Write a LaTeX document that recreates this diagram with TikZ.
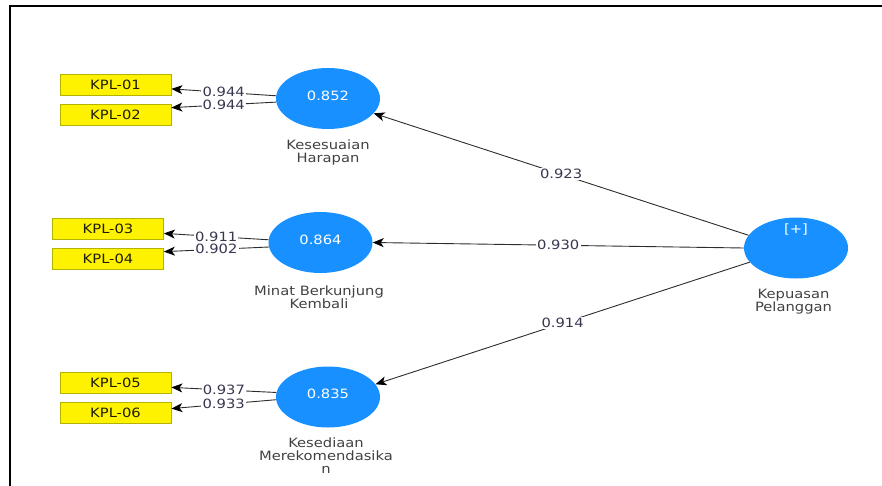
\documentclass[tikz,border=0pt]{standalone}
\usepackage{fontspec}
\setmainfont{DejaVu Sans}[FakeStretch=1.15]
\usetikzlibrary{arrows.meta,shapes.geometric}
\definecolor{lvblue}{RGB}{24,144,255}
\definecolor{boxedge}{RGB}{180,180,0}
\definecolor{boxtext}{RGB}{30,30,0}
\definecolor{linegray}{RGB}{45,45,45}
\definecolor{numtext}{RGB}{55,55,80}
\definecolor{captext}{RGB}{65,65,65}
\newcommand\dfont{\fontsize{12.8}{13}\selectfont}
\begin{document}
\begin{tikzpicture}[x=1pt,y=-1pt,
  lv/.style={ellipse, fill=lvblue, minimum width=104pt, minimum height=61pt, inner sep=0pt, text=white, font=\dfont, text depth=6pt},
  ind/.style={rectangle, fill=yellow, draw=boxedge, line width=0.8pt, minimum width=111pt, minimum height=21pt, inner sep=0pt, text=boxtext, font=\dfont},
  conn/.style={draw=linegray, line width=0.9pt, -{Stealth[length=11pt,width=9pt,inset=3pt,black]}},
  wt/.style={fill=white, inner sep=1.2pt, text=numtext, font=\dfont},
  lvcap/.style={align=center, text=captext, font=\dfont, inner sep=0pt},
  frameline/.style={draw=black, line width=2pt}
]
\useasboundingbox (0,0) rectangle (882,486);
% frame
\coordinate (fr1) at (882,6.5);
\coordinate (fr2) at (9.5,6.5);
\coordinate (fr3) at (9.5,486);
\draw[frameline] (fr1) -- (fr2) -- (fr3);

% latent variables
\node[lv] (KH) at (328,98.5) {0.852};
\node[lv] (MB) at (320.5,242.5) {0.864};
\node[lv] (KM) at (328,397) {0.835};
\node[lv] (KP) at (796,248) {};
\node[text=white, font=\dfont, inner sep=0pt] (plus) at (796,229) {[+]};

% captions
\node[lvcap] (KHc) at (328,152) {Kesesuaian\\Harapan};
\node[lvcap] (MBc) at (319,297) {Minat Berkunjung\\Kembali};
\node[lvcap] (KMc) at (326,455.5) {Kesediaan\\Merekomendasika\\n};
\node[lvcap] (KPc) at (793.5,302) {Kepuasan\\Pelanggan};

% indicators
\node[ind] (k1) at (115.5,85) {KPL-01};
\node[ind] (k2) at (115.5,114.5) {KPL-02};
\node[ind] (k3) at (108,228.5) {KPL-03};
\node[ind] (k4) at (108,258.5) {KPL-04};
\node[ind] (k5) at (115.5,382.5) {KPL-05};
\node[ind] (k6) at (115.5,412.5) {KPL-06};

% outer loadings
\draw[conn] (KH.177) -- node[wt] {0.944} (k1.-4);
\draw[conn] (KH.184) -- node[wt] {0.944} (k2.7);
\draw[conn] (MB.177) -- node[wt] {0.911} (k3.-5);
\draw[conn] (MB.185) -- node[wt] {0.902} (k4.7);
\draw[conn] (KM.175.5) -- node[wt] {0.937} (k5.-5.7);
\draw[conn] (KM.183) -- node[wt] {0.933} (k6.4.6);

% inner paths
\draw[conn] (KP.165) -- node[wt] {0.923} (KH.-18);
\draw[conn] (KP.west) -- node[wt] {0.930} (MB.east);
\draw[conn] (KP.197) -- node[wt] {0.914} (KM.15);
\end{tikzpicture}
\end{document}
